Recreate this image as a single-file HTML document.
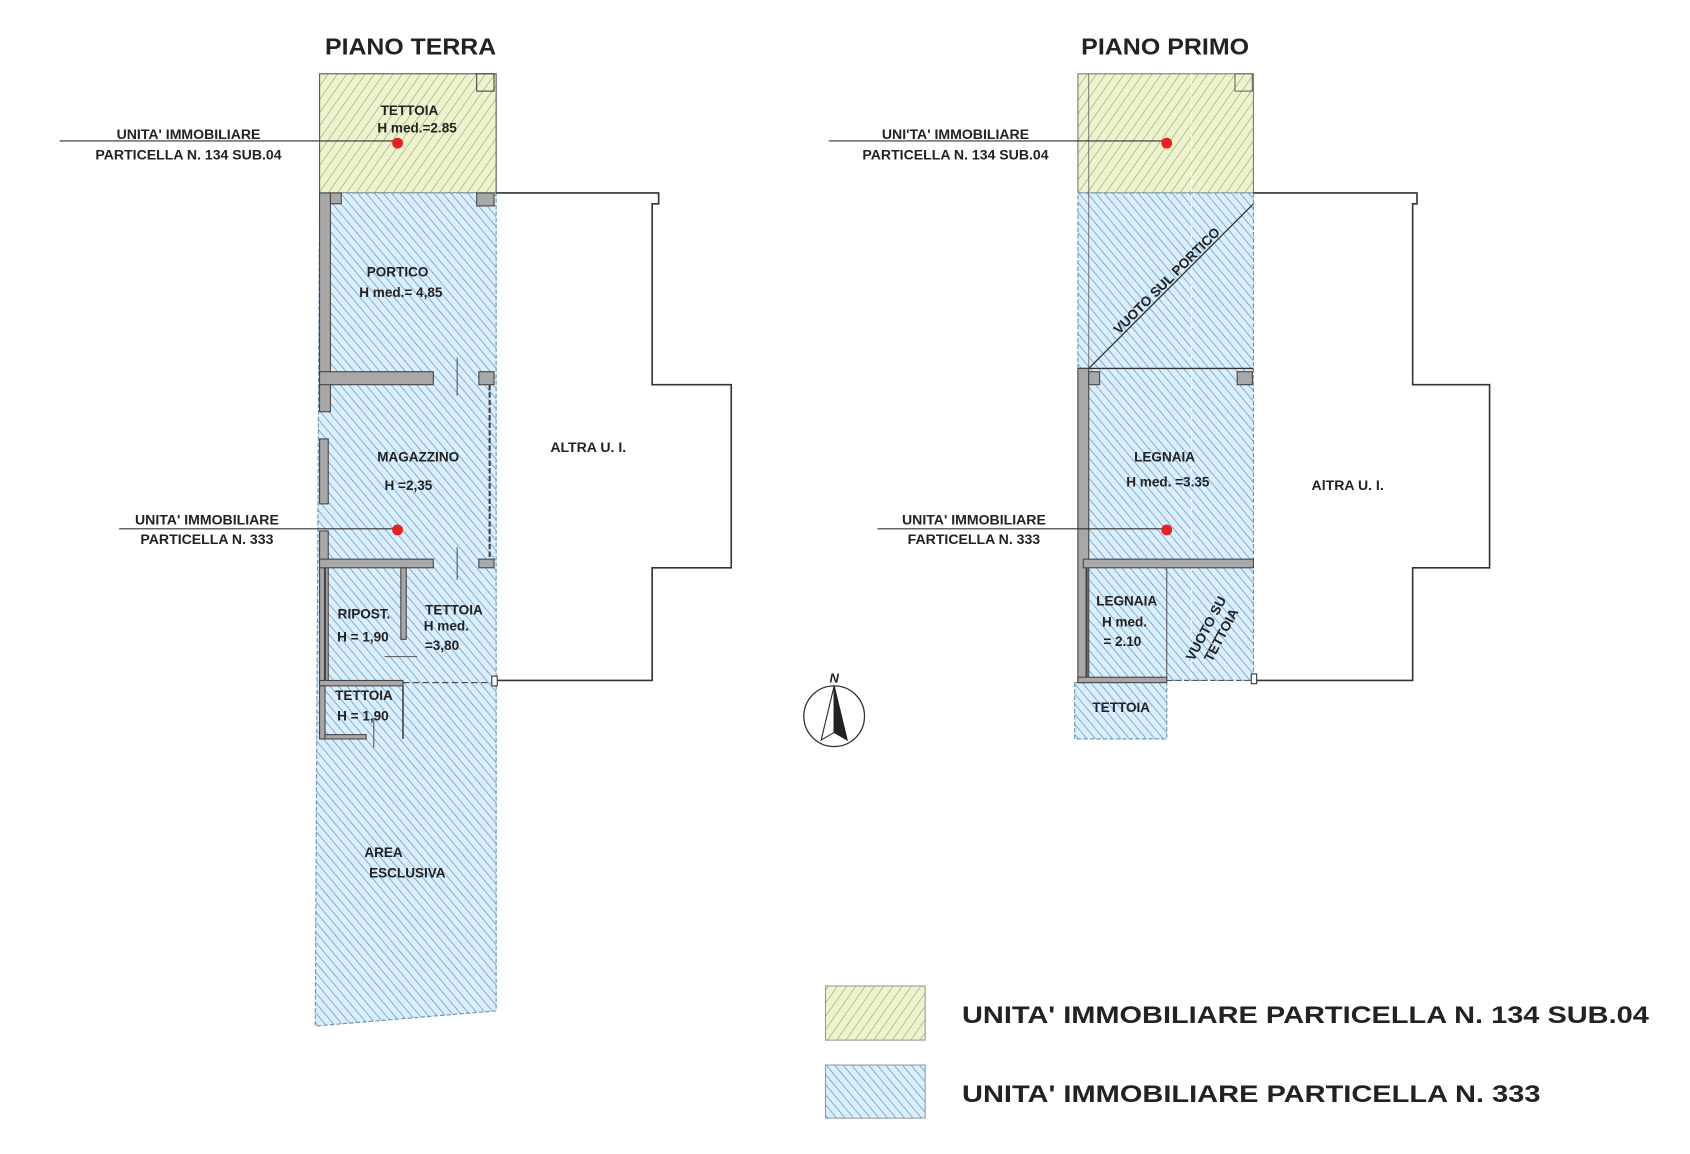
<!DOCTYPE html>
<html><head><meta charset="utf-8"><style>
html,body{margin:0;padding:0;background:#fff;width:1690px;height:1154px;overflow:hidden}
svg{display:block}
text{font-family:"Liberation Sans",sans-serif;font-weight:bold;fill:#222}
</style></head><body>
<svg width="1690" height="1154" viewBox="0 0 1560 1065" xmlns="http://www.w3.org/2000/svg">
<defs>
<pattern id="g" width="7" height="7" patternUnits="userSpaceOnUse" patternTransform="rotate(35)">
<rect width="7" height="7" fill="#eef3cf"/><line x1="0" y1="0" x2="0" y2="7" stroke="#8a9a55" stroke-width="1"/></pattern>
<pattern id="b" width="6" height="6" patternUnits="userSpaceOnUse" patternTransform="rotate(-40)">
<rect width="6" height="6" fill="#dbeefa"/><line x1="0" y1="0" x2="0" y2="6" stroke="#3b86c8" stroke-width="1.1"/></pattern>
</defs>

<!-- PIANO TERRA -->
<text x="300" y="50" font-size="21" textLength="158" lengthAdjust="spacingAndGlyphs">PIANO TERRA</text>
<rect x="295" y="68" width="163" height="110" fill="url(#g)" stroke="#555" stroke-width="1"/>
<rect x="440" y="68" width="16" height="16" fill="none" stroke="#444"/>
<polygon points="295,178 458,178 458,933 291,947" fill="url(#b)" stroke="#6a8fb0" stroke-width="1" stroke-dasharray="4,2"/>
<g fill="#a8a8a8" stroke="#444" stroke-width="1">
<rect x="295" y="178" width="10" height="202"/>
<rect x="305" y="178" width="10" height="10"/>
<rect x="440" y="178" width="16" height="12"/>
<rect x="295" y="343" width="105" height="12"/>
<rect x="442" y="343" width="14" height="12"/>
<rect x="295" y="405" width="8" height="60"/>
<rect x="295" y="490" width="8" height="140"/>
<rect x="295" y="516" width="105" height="8"/>
<rect x="442" y="516" width="14" height="8"/>
<rect x="370" y="524" width="5" height="66"/>
<rect x="295" y="628" width="77" height="5"/>
<rect x="295" y="633" width="5" height="49"/>
<rect x="300" y="678" width="38" height="4"/>
</g>
<line x1="452" y1="355" x2="452" y2="516" stroke="#444" stroke-width="2" stroke-dasharray="5,2"/>
<line x1="300" y1="524" x2="300" y2="628" stroke="#444" stroke-width="2"/>
<line x1="372" y1="633" x2="372" y2="682" stroke="#444" stroke-width="1.5"/>
<line x1="372" y1="630" x2="456" y2="630" stroke="#333" stroke-width="1" stroke-dasharray="6,3"/>
<line x1="422" y1="330" x2="422" y2="365" stroke="#555"/><line x1="422" y1="505" x2="422" y2="535" stroke="#555"/>
<line x1="355" y1="606" x2="385" y2="606" stroke="#555"/><line x1="345" y1="663" x2="345" y2="690" stroke="#555"/>
<rect x="454" y="624" width="5" height="9" fill="#fff" stroke="#333"/>
<polyline points="458,178 608,178 608,188 602,188 602,355 675,355 675,524 602,524 602,628 459,628" fill="none" stroke="#333" stroke-width="1.5"/>
<text x="543" y="417" font-size="13" text-anchor="middle">ALTRA U. I.</text>
<line x1="55" y1="130" x2="367" y2="130" stroke="#333"/>
<circle cx="367" cy="132" r="5" fill="#e82020"/>
<text x="174" y="128" font-size="13" text-anchor="middle">UNITA' IMMOBILIARE</text>
<text x="174" y="147" font-size="13" text-anchor="middle">PARTICELLA N. 134 SUB.04</text>
<line x1="110" y1="488" x2="367" y2="488" stroke="#333"/>
<circle cx="367" cy="489" r="5" fill="#e82020"/>
<text x="191" y="484" font-size="13" text-anchor="middle">UNITA' IMMOBILIARE</text>
<text x="191" y="502" font-size="13" text-anchor="middle">PARTICELLA N. 333</text>
<g font-size="12.5" text-anchor="middle">
<text x="378" y="106">TETTOIA</text><text x="385" y="122">H med.=2.85</text>
<text x="367" y="255">PORTICO</text><text x="370" y="274">H med.= 4,85</text>
<text x="386" y="426">MAGAZZINO</text><text x="377" y="452">H =2,35</text>
<text x="336" y="571">RIPOST.</text><text x="335" y="592">H = 1,90</text>
<text x="419" y="567">TETTOIA</text><text x="412" y="582">H med.</text><text x="408" y="600">=3,80</text>
<text x="336" y="646">TETTOIA</text><text x="335" y="665">H = 1,90</text>
<text x="354" y="791">AREA</text><text x="376" y="810">ESCLUSIVA</text>
</g>

<!-- PIANO PRIMO -->
<text x="998" y="50" font-size="21" textLength="155" lengthAdjust="spacingAndGlyphs">PIANO PRIMO</text>
<rect x="995" y="68" width="162" height="110" fill="url(#g)" stroke="#777" stroke-width="1"/>
<rect x="1140" y="68" width="16" height="16" fill="none" stroke="#666"/>
<rect x="995" y="178" width="162" height="450" fill="url(#b)" stroke="#6a8fb0" stroke-dasharray="4,2"/>
<rect x="992" y="630" width="85" height="52" fill="url(#b)" stroke="#6a8fb0" stroke-dasharray="4,2"/>
<line x1="1005" y1="68" x2="1005" y2="340" stroke="#666" stroke-width="0.8"/>
<line x1="1100" y1="68" x2="1100" y2="628" stroke="#fff" stroke-width="1" stroke-dasharray="4,3"/>
<line x1="1005" y1="340" x2="1157" y2="188" stroke="#333" stroke-width="1.2"/>
<text transform="translate(1080,262) rotate(-45)" font-size="12.5" text-anchor="middle">VUOTO SUL PORTICO</text>
<line x1="995" y1="340" x2="1157" y2="340" stroke="#333" stroke-width="1.2"/>
<g fill="#a8a8a8" stroke="#444" stroke-width="1">
<rect x="995" y="340" width="10" height="290"/>
<rect x="1005" y="343" width="10" height="12"/>
<rect x="1142" y="343" width="14" height="12"/>
<rect x="1000" y="516" width="157" height="8"/>
<rect x="995" y="625" width="82" height="5"/>
</g>
<line x1="1003" y1="524" x2="1003" y2="625" stroke="#444" stroke-width="2"/>
<line x1="1077" y1="524" x2="1077" y2="628" stroke="#555" stroke-width="1"/>
<line x1="1077" y1="628" x2="1157" y2="628" stroke="#555" stroke-dasharray="5,3"/>
<text transform="translate(1117,582) rotate(-62)" font-size="12.5" text-anchor="middle">VUOTO SU</text>
<text transform="translate(1131,588) rotate(-62)" font-size="12.5" text-anchor="middle">TETTOIA</text>
<rect x="1155" y="622" width="5" height="9" fill="#fff" stroke="#333"/>
<polyline points="1157,178 1308,178 1308,188 1304,188 1304,355 1375,355 1375,524 1304,524 1304,628 1160,628" fill="none" stroke="#333" stroke-width="1.5"/>
<text x="1244" y="452" font-size="13" text-anchor="middle">AlTRA U. I.</text>
<line x1="765" y1="130" x2="1077" y2="130" stroke="#333"/>
<circle cx="1077" cy="132" r="5" fill="#e82020"/>
<text x="882" y="128" font-size="13" text-anchor="middle">UNI'TA' IMMOBILIARE</text>
<text x="882" y="147" font-size="13" text-anchor="middle">PARTICELLA N. 134 SUB.04</text>
<line x1="810" y1="488" x2="1077" y2="488" stroke="#333"/>
<circle cx="1077" cy="489" r="5" fill="#e82020"/>
<text x="899" y="484" font-size="13" text-anchor="middle">UNITA' IMMOBILIARE</text>
<text x="899" y="502" font-size="13" text-anchor="middle">FARTICELLA N. 333</text>
<g font-size="12.5" text-anchor="middle">
<text x="1075" y="426">LEGNAIA</text><text x="1078" y="449">H med. =3.35</text>
<text x="1040" y="559">LEGNAIA</text><text x="1038" y="578">H med.</text><text x="1036" y="596">= 2.10</text>
<text x="1035" y="657">TETTOIA</text>
</g>

<!-- north -->
<circle cx="770" cy="661" r="28" fill="none" stroke="#333" stroke-width="1.2"/>
<polygon points="770,633 758,683 770,676" fill="#fff" stroke="#222"/>
<polygon points="770,633 782,683 770,676" fill="#222" stroke="#222"/>
<text x="770" y="630" font-size="12" text-anchor="middle" font-style="italic">N</text>

<!-- legend -->
<rect x="762" y="910" width="92" height="50" fill="url(#g)" stroke="#999"/>
<rect x="762" y="983" width="92" height="49" fill="url(#b)" stroke="#999"/>
<text x="888" y="944" font-size="22" textLength="634" lengthAdjust="spacingAndGlyphs">UNITA' IMMOBILIARE PARTICELLA N. 134 SUB.04</text>
<text x="888" y="1017" font-size="22" textLength="534" lengthAdjust="spacingAndGlyphs">UNITA' IMMOBILIARE PARTICELLA N. 333</text>
</svg>
</body></html>
